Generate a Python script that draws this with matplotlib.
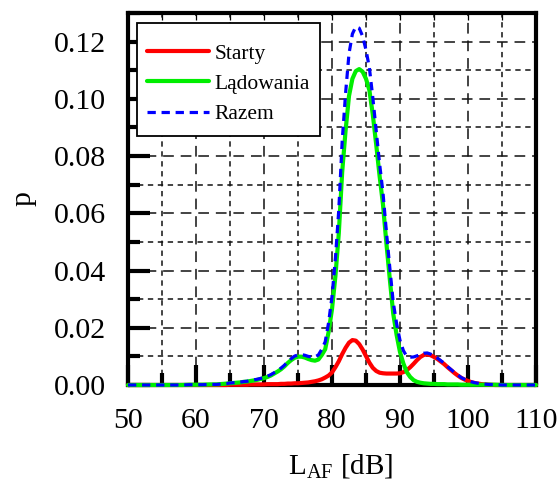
import numpy as np
import matplotlib
matplotlib.use("Agg")
import matplotlib.pyplot as plt
from matplotlib.patches import Rectangle
from matplotlib.ticker import MultipleLocator, FormatStrFormatter

plt.rcParams["font.family"] = ["Liberation Serif", "DejaVu Serif"]
plt.rcParams["mathtext.fontset"] = "custom"
plt.rcParams["mathtext.rm"] = "Liberation Serif"
plt.rcParams["mathtext.it"] = "Liberation Serif:italic"

# Sound exposure level grid [dB]
level = (
    [50, 51, 52, 53, 54, 55, 56, 57, 58, 59, 60, 61, 62]
    + [63 + 0.5 * i for i in range(79)]
    + [103, 104, 105, 106, 107, 108, 109, 110]
)

# Probability density: take-offs (Starty)
p_starty = (
    [0.0] * 13
    + [0.0, 0.0, 0.0, 0.0, 0.0001, 0.0001, 0.0001, 0.0001, 0.0001, 0.0001,
       0.0002, 0.0002, 0.0002, 0.0002, 0.0002, 0.0003, 0.0003, 0.0003, 0.0003, 0.0004,
       0.0004, 0.0005, 0.0005, 0.0006, 0.0006, 0.0007, 0.0008, 0.0009, 0.0011, 0.0013,
       0.0016, 0.0020, 0.0026, 0.0033, 0.0044, 0.0062, 0.0083, 0.0108, 0.0130, 0.0148,
       0.0157, 0.0155, 0.0143, 0.0124, 0.0101, 0.0078, 0.0060, 0.0049, 0.0043, 0.0041,
       0.0040, 0.0040, 0.0040, 0.0040, 0.0041, 0.0045, 0.0052, 0.0062, 0.0074, 0.0087,
       0.0098, 0.0105, 0.0107, 0.0104, 0.0098, 0.0091, 0.0082, 0.0073, 0.0062, 0.0052,
       0.0042, 0.0033, 0.0025, 0.0019, 0.0014, 0.0010, 0.0007, 0.0005, 0.0003]
    + [0.0001, 0.0, 0.0, 0.0, 0.0, 0.0, 0.0, 0.0]
)

# Probability density: landings (Lądowania)
p_ladowania = (
    [0.0, 0.0, 0.0, 0.0, 0.0, 0.0, 0.0, 0.0, 0.0, 0.0001, 0.0001, 0.0001, 0.0002]
    + [0.0002, 0.0003, 0.0004, 0.0005, 0.0006, 0.0007, 0.0008, 0.0009, 0.0011, 0.0012,
       0.0014, 0.0016, 0.0018, 0.0021, 0.0024, 0.0028, 0.0033, 0.0040, 0.0047, 0.0055,
       0.0065, 0.0077, 0.0087, 0.0095, 0.0099, 0.0099, 0.0096, 0.0091, 0.0087, 0.0085,
       0.0089, 0.0105, 0.0125, 0.0185, 0.0265, 0.0380, 0.0530, 0.0745, 0.0890, 0.1010,
       0.1070, 0.1097, 0.1104, 0.1095, 0.1070, 0.1030, 0.0945, 0.0840, 0.0730, 0.0630,
       0.0495, 0.0370, 0.0250, 0.0175, 0.0115, 0.0075, 0.0045, 0.0028, 0.0017, 0.0011,
       0.0008, 0.0006, 0.0005, 0.0004, 0.0004, 0.0003, 0.0003, 0.0003, 0.0002, 0.0002,
       0.0002, 0.0002, 0.0001, 0.0001, 0.0001, 0.0001, 0.0001, 0.0001, 0.0001]
    + [0.0001, 0.0001, 0.0, 0.0, 0.0, 0.0, 0.0, 0.0]
)

# Probability density: all operations (Razem)
p_razem = (
    [0.0, 0.0, 0.0, 0.0, 0.0, 0.0, 0.0, 0.0, 0.0, 0.0001, 0.0001, 0.0001, 0.0002]
    + [0.0002, 0.0003, 0.0004, 0.0005, 0.0007, 0.0008, 0.0009, 0.0010, 0.0012, 0.0013,
       0.0016, 0.0018, 0.0020, 0.0023, 0.0026, 0.0031, 0.0036, 0.0043, 0.0050, 0.0059,
       0.0069, 0.0082, 0.0092, 0.0101, 0.0105, 0.0106, 0.0104, 0.0100, 0.0098, 0.0098,
       0.0105, 0.0125, 0.0151, 0.0218, 0.0309, 0.0442, 0.0613, 0.0853, 0.1020, 0.1158,
       0.1227, 0.1252, 0.1247, 0.1219, 0.1171, 0.1108, 0.1005, 0.0889, 0.0773, 0.0671,
       0.0535, 0.0410, 0.0290, 0.0215, 0.0156, 0.0120, 0.0100, 0.0097, 0.0098, 0.0102,
       0.0106, 0.0111, 0.0112, 0.0108, 0.0102, 0.0094, 0.0085, 0.0076, 0.0064, 0.0054,
       0.0044, 0.0035, 0.0026, 0.0020, 0.0015, 0.0011, 0.0008, 0.0006, 0.0004]
    + [0.0002, 0.0001, 0.0, 0.0, 0.0, 0.0, 0.0, 0.0]
)

labels = ["Starty", "Lądowania", "Razem"]

fig = plt.figure(figsize=(5.58, 4.79), dpi=100)
ax = fig.add_axes([128 / 558, 1 - 385 / 479, 408 / 558, 372 / 479])

ax.set_xlim(50, 110)
ax.set_ylim(0, 0.13)

ax.xaxis.set_major_locator(MultipleLocator(10))
ax.xaxis.set_minor_locator(MultipleLocator(5))
ax.yaxis.set_major_locator(MultipleLocator(0.02))
ax.yaxis.set_minor_locator(MultipleLocator(0.01))
ax.yaxis.set_major_formatter(FormatStrFormatter("%.2f"))

# Grid: long dashes at major ticks, short dashes at minor ticks
ax.grid(which="major", color="#111111", linewidth=1.1, dashes=(7, 4.5), zorder=1)
ax.grid(which="minor", color="#111111", linewidth=1.1, dashes=(3.5, 3), zorder=1)
ax.set_axisbelow(True)

for s in ax.spines.values():
    s.set_linewidth(3.0)
    s.set_zorder(2.5)

ax.tick_params(which="both", direction="in", top=False, right=False,
               labelsize=21.5, width=3.0, color="black")
ax.tick_params(axis="x", which="major", length=14.5, pad=16.5)
ax.tick_params(axis="x", which="minor", length=8.5)
ax.tick_params(axis="y", which="major", length=15.5, pad=16)
ax.tick_params(axis="y", which="minor", length=8.5)

# Thin ticks along the top frame
top = ax.secondary_xaxis("top")
top.xaxis.set_major_locator(MultipleLocator(5))
top.tick_params(direction="in", length=5, width=0.9, labeltop=False)
top.spines["top"].set_visible(False)

ax.plot(level, p_starty, color="#ff0000", linewidth=3.0, label=labels[0],
        zorder=3, clip_on=False, solid_capstyle="round")
ax.plot(level, p_ladowania, color="#00ee00", linewidth=3.0, label=labels[1],
        zorder=4, clip_on=False, solid_capstyle="round")
ax.plot(level, p_razem, color="#0000ff", linewidth=2.3, dashes=(2.6, 1.8),
        label=labels[2], zorder=5, clip_on=False)

# Legend: square white box with a thin black border
box = Rectangle((0.0221, 0.6694), 0.4485, 0.3037, transform=ax.transAxes,
                facecolor="white", edgecolor="black", linewidth=1.3, zorder=6)
ax.add_patch(box)
leg = ax.legend(loc="upper left", bbox_to_anchor=(0.0466, 0.918), borderaxespad=0,
                fontsize=15.5, frameon=False, handlelength=2.88,
                handletextpad=0.25, labelspacing=0.48, borderpad=0)
leg.set_zorder(7)

ax.set_xlabel(r"L$_{\mathrm{AF}}$ [dB]", fontsize=21, labelpad=13)
ax.xaxis.label.set_x(0.522)
ax.set_ylabel("p", fontsize=21.5, labelpad=12)

fig.savefig("out.png", dpi=100)
